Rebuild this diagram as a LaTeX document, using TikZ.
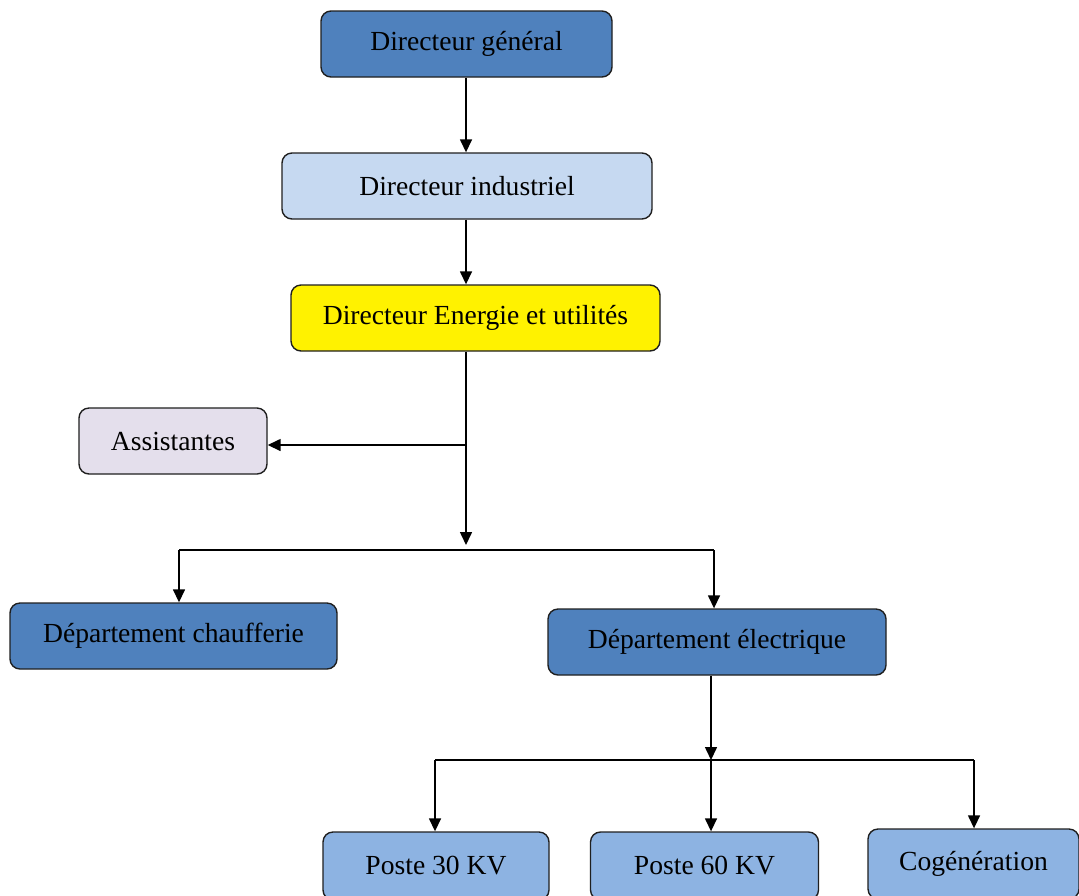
\documentclass[tikz,border=0pt]{standalone}
\usepackage{fontspec}
\setmainfont{Liberation Serif}
\usetikzlibrary{arrows.meta}
\definecolor{darkblue}{HTML}{4F81BD}
\definecolor{paleblue}{HTML}{C6D9F1}
\definecolor{midblue}{HTML}{8DB3E2}
\definecolor{lavender}{HTML}{E4DFEC}
\definecolor{edge}{HTML}{1F1F1F}
\begin{document}
\begin{tikzpicture}[x=0.5pt,y=-0.5pt,
  box/.style={draw=edge, line width=0.7pt, rounded corners=5pt, minimum height=33pt,
    inner sep=0pt, font=\fontsize{13.8}{16}\selectfont, text=black},
  link/.style={line width=0.75pt, draw=black},
  arr/.style={link, -{Triangle[length=6.5pt,width=6pt]}}]
\path[use as bounding box] (0,0) rectangle (1079,895);
\clip (0,0) rectangle (1079,895);
\fill[white] (0,0) rectangle (1079,895);

% boxes
\node[box, fill=darkblue, minimum width=145.5pt] (dg) at (466.5,44) {Directeur général};
\node[box, fill=paleblue, minimum width=185pt] (di) at (467,186) {Directeur industriel};
\node[box, fill=yellow, minimum width=184.5pt] (deu) at (475.5,318) {Directeur Energie et utilités};
\node[box, fill=lavender, minimum width=94pt] (as) at (173,441) {Assistantes};
\node[box, fill=darkblue, minimum width=163.5pt] (dc) at (173.5,636) {Département chaufferie};
\node[box, fill=darkblue, minimum width=169pt] (del) at (717,642) {Département électrique};
\node[box, fill=midblue, minimum width=113pt, minimum height=34pt] (p30) at (436,866) {Poste 30 KV};
\node[box, fill=midblue, minimum width=114pt, minimum height=34pt] (p60) at (704.5,866) {Poste 60 KV};
\node[box, fill=midblue, minimum width=105.5pt, minimum height=35pt] (cog) at (973.5,864) {Cogénération};

% junction points
\coordinate (t1) at (466,545);
\coordinate (a1) at (466,445);
\coordinate (b1l) at (179,550);
\coordinate (b1r) at (714,550);
\coordinate (t2) at (711,760);
\coordinate (b2l) at (435,760);
\coordinate (b2r) at (974,760);

% connectors
\draw[arr] (dg.south -| a1) -- (di.north -| a1);
\draw[arr] (di.south -| a1) -- (deu.north -| a1);
\draw[arr] (deu.south -| a1) -- (t1);
\draw[arr] (a1) -- (as.east |- a1);
\draw[link] (b1l) -- (b1r);
\draw[arr] (b1l) -- (dc.north -| b1l);
\draw[arr] (b1r) -- (del.north -| b1r);
\draw[arr] (del.south -| t2) -- (t2);
\draw[link] (b2l) -- (b2r);
\draw[arr] (b2l) -- (p30.north -| b2l);
\draw[arr] (t2) -- (p60.north -| t2);
\draw[arr] (b2r) -- (cog.north -| b2r);
\end{tikzpicture}
\end{document}
